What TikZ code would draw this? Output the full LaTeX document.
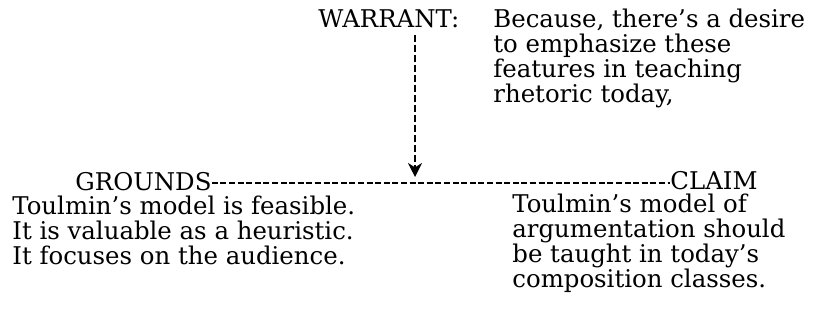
\documentclass[tikz,border=0pt]{standalone}
\usepackage{fontspec}
\setmainfont{DejaVu Serif}
\usetikzlibrary{arrows.meta}
\usetikzlibrary{positioning}
\tikzset{word/.style = {inner sep=0pt, anchor=base west, align=left,
                        font=\fontsize{12.2}{12.5}\selectfont}}
\tikzset{hyphens/.style = {line width=0.85pt, dash pattern=on 3pt off 1.3pt}}
\tikzset{warrantline/.style = {line width=0.8pt, dash pattern=on 3.5pt off 1.5pt,
                               -{Stealth[length=7pt,width=7pt,inset=2.2pt]}}}

\begin{document}
\begin{tikzpicture}[x=0.5pt, y=-0.5pt]
		
		\fill[white] (0,0) rectangle (822,324);
		\useasboundingbox (0,0) rectangle (822,324);
		
		% multi-line nodes sit on the baseline of their last line
		\node[word] (W) at (318,28) {WARRANT:};
		\node[word] (Wtext) at (493,103) {Because, there's a desire\\to emphasize these\\features in teaching\\rhetoric today,};
		
		\node[word] (G) at (75,191) {GROUNDS};
		\node[word] (C) at (670,190) {CLAIM};
		\node[word] (Gtext) at (12,265) {Toulmin's model is feasible.\\It is valuable as a heuristic.\\It focuses on the audience.};
		\node[word] (Ctext) at (512,288) {Toulmin's model of\\argumentation should\\be taught in today's\\composition classes.};
		
		\coordinate (J) at (415,183);
		
		\draw[hyphens] (G.east |- J) -- (C.west |- J);
		\draw[warrantline] (415,35) -- ([yshift=3pt]J);
		\end{tikzpicture}
\end{document}
